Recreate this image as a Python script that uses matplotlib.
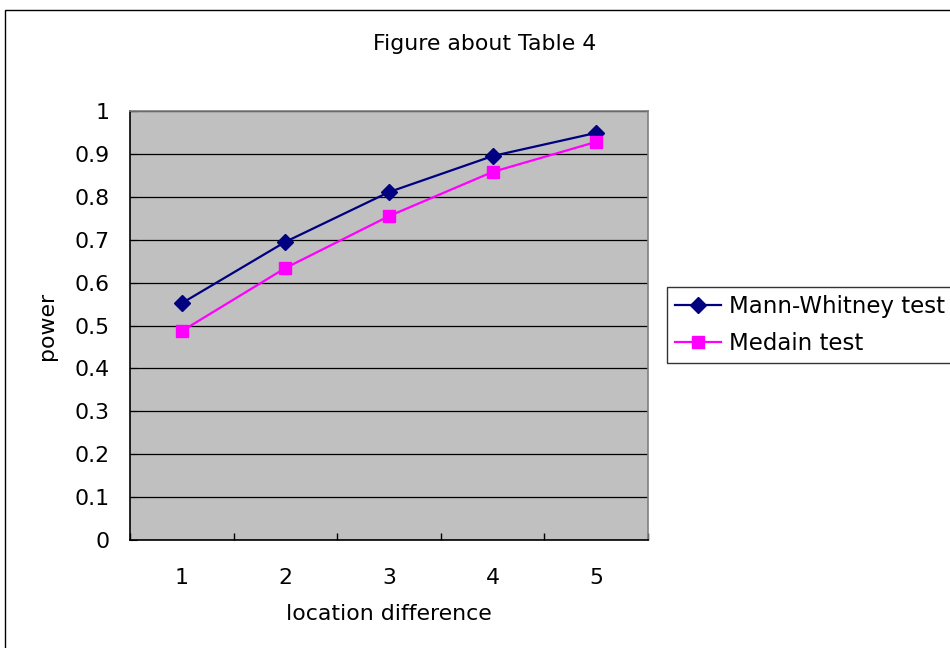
import matplotlib
matplotlib.use("Agg")
import matplotlib.pyplot as plt
import matplotlib.patches as patches
import numpy as np

# data
location_diff = [1, 2, 3, 4, 5]
mann_whitney = [0.552, 0.695, 0.811, 0.895, 0.949]
median_test = [0.487, 0.634, 0.755, 0.858, 0.928]

plt.rcParams['font.family'] = ['DejaVu Sans']
FS = 15.8

fig = plt.figure(figsize=(9.5, 6.48), dpi=100)
fig.patch.set_facecolor('white')

# outer chart frame (cut off at right and bottom like the reference)
frame = patches.Rectangle((4.5 / 950, -0.1), 1.2, 1 - 9.5 / 648 + 0.1,
                          transform=fig.transFigure, fill=False,
                          edgecolor='black', linewidth=1.0, zorder=0)
fig.patches.append(frame)

ax = fig.add_axes([130 / 950, 1 - 540 / 648, 518 / 950, 429 / 648])
ax.set_facecolor('#C0C0C0')

ax.plot(location_diff, mann_whitney, color='#000080', marker='D',
        markersize=8.5, linewidth=1.6, label='Mann-Whitney test', zorder=3)
ax.plot(location_diff, median_test, color='#FF00FF', marker='s',
        markersize=8.5, linewidth=1.6, label='Medain test', zorder=3)

ax.set_xlim(0.5, 5.5)
ax.set_ylim(0, 1)
ax.set_yticks(np.arange(0, 1.01, 0.1))
ax.set_yticklabels(['0', '0.1', '0.2', '0.3', '0.4', '0.5', '0.6', '0.7',
                    '0.8', '0.9', '1'])
ax.yaxis.grid(True, color='black', linewidth=0.9)
ax.set_axisbelow(True)

ax.set_xticks(location_diff)
ax.set_xticks(np.arange(0.5, 5.6, 1), minor=True)
ax.tick_params(axis='x', which='major', length=0, pad=20, labelsize=FS)
ax.tick_params(axis='x', which='minor', direction='in', length=5, width=1)
ax.tick_params(axis='y', direction='in', length=5, pad=15, labelsize=FS)

for side in ['left', 'bottom']:
    ax.spines[side].set_color('black')
    ax.spines[side].set_linewidth(1.2)
for side in ['top', 'right']:
    ax.spines[side].set_color('#808080')
    ax.spines[side].set_linewidth(1.2)

ax.set_xlabel('location difference', fontsize=FS, labelpad=12)
ax.set_ylabel('power', fontsize=FS, labelpad=12)

fig.text(485 / 950, 1 - 44 / 648, 'Figure about Table 4', fontsize=FS,
         ha='center', va='center')

leg = ax.legend(loc='upper left', bbox_to_anchor=(667 / 950, 1 - 287 / 648),
                bbox_transform=fig.transFigure, borderaxespad=0,
                fontsize=16.5, frameon=True, fancybox=False, handlelength=2.0,
                handletextpad=0.35, labelspacing=0.6, borderpad=0.35)
leg.get_frame().set_edgecolor('black')
leg.get_frame().set_linewidth(1.0)

fig.savefig('out.png', dpi=100)
